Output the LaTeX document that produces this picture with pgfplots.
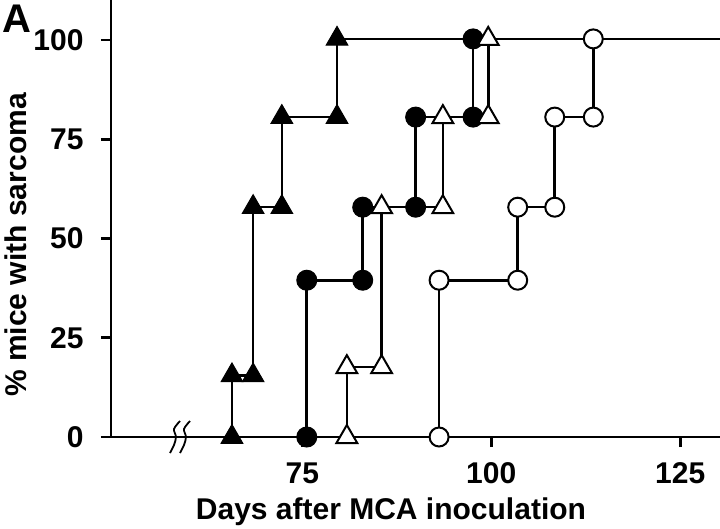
\documentclass[border=0pt]{standalone}
\usepackage{fontspec}
\setmainfont{Liberation Sans}
\usepackage{pgfplots}
\pgfplotsset{compat=1.18}
\begin{document}
\begin{tikzpicture}[x=1pt,y=1pt]
\begin{axis}[
  at={(0,0)}, anchor=south west,
  scale only axis, width=609pt, height=437pt,
  xmin=49.7, xmax=130.26, ymin=0, ymax=110.1,
  axis lines*=left,
  axis line style={line width=2.6pt, black},
  xtick={75,100,125}, ytick={0,25,50,75,100},
  tick align=outside,
  major tick length=10pt,
  tick style={line width=2.6pt, black},
  tick label style={font=\bfseries\fontsize{30}{30}\selectfont},
  yticklabel style={xshift=-14pt},
  xticklabel style={yshift=-12pt},
  /pgf/number format/assume math mode=true,
  clip=false,
]
% lines
\addplot[black, line width=2.6pt, mark=none] coordinates {
 (65.7,0) (65.7,15.5) (68.5,15.5) (68.5,57.9) (72.3,57.9) (72.3,80.6) (79.6,80.6) (79.6,100.3) (130.26,100.3)};
\addplot[black, line width=2.6pt, mark=none] coordinates {
 (75.6,0) (75.6,39.5) (83.0,39.5) (83.0,57.9) (90.0,57.9) (90.0,80.6) (97.6,80.6) (97.6,100.3) (130.26,100.3)};
\addplot[black, line width=2.6pt, mark=none] coordinates {
 (80.9,0) (80.9,17.6) (85.5,17.6) (85.5,57.9) (93.6,57.9) (93.6,80.6) (99.6,80.6) (99.6,100.3) (130.26,100.3)};
\addplot[black, line width=2.6pt, mark=none] coordinates {
 (93.1,0) (93.1,39.5) (103.5,39.5) (103.5,57.9) (108.4,57.9) (108.4,80.6) (113.5,80.6) (113.5,100.3) (130.26,100.3)};
% marks
\addplot[only marks, mark=triangle*, mark size=12.5pt, mark options={fill=black, draw=black, line width=1pt}] coordinates {
 (65.7,0) (65.7,15.5) (68.5,15.5) (68.5,57.9) (72.3,57.9) (72.3,80.6) (79.6,80.6) (79.6,100.3)};
\addplot[only marks, mark=*, mark size=10pt, mark options={fill=black, draw=black, line width=1pt}] coordinates {
 (75.6,0) (75.6,39.5) (83.0,39.5) (83.0,57.9) (90.0,57.9) (90.0,80.6) (97.6,80.6) (97.6,100.3)};
\addplot[only marks, mark=triangle*, mark size=12pt, mark options={fill=white, draw=black, line width=2pt}] coordinates {
 (80.9,0) (80.9,17.6) (85.5,17.6) (85.5,57.9) (93.6,57.9) (93.6,80.6) (99.6,80.6) (99.6,100.3)};
\addplot[only marks, mark=*, mark size=9.5pt, mark options={fill=white, draw=black, line width=2pt}] coordinates {
 (93.1,0) (93.1,39.5) (103.5,39.5) (103.5,57.9) (108.4,57.9) (108.4,80.6) (113.5,80.6) (113.5,100.3)};
\end{axis}
% axis break mark
\foreach \dx in {-5,5} {
  \draw[line width=1.8pt, black] plot[smooth] coordinates {(69+\dx+5,16) (69+\dx-1,8) (69+\dx+1,0) (69+\dx-1,-8) (69+\dx-5,-16)};
}
% labels
\node[anchor=base west, inner sep=0pt, font=\bfseries\fontsize{40}{40}\selectfont] at (-109,404) {A};
\node[rotate=90, anchor=base, inner sep=0pt, font=\bfseries\fontsize{30}{30}\selectfont] at (-84,192) {\% mice with sarcoma};
\node[anchor=base, inner sep=0pt, font=\bfseries\fontsize{30}{30}\selectfont] at (280,-82) {Days after MCA inoculation};
\pgfresetboundingbox
\path[use as bounding box] (-111,-91) rectangle (609,437);
\end{tikzpicture}
\end{document}
